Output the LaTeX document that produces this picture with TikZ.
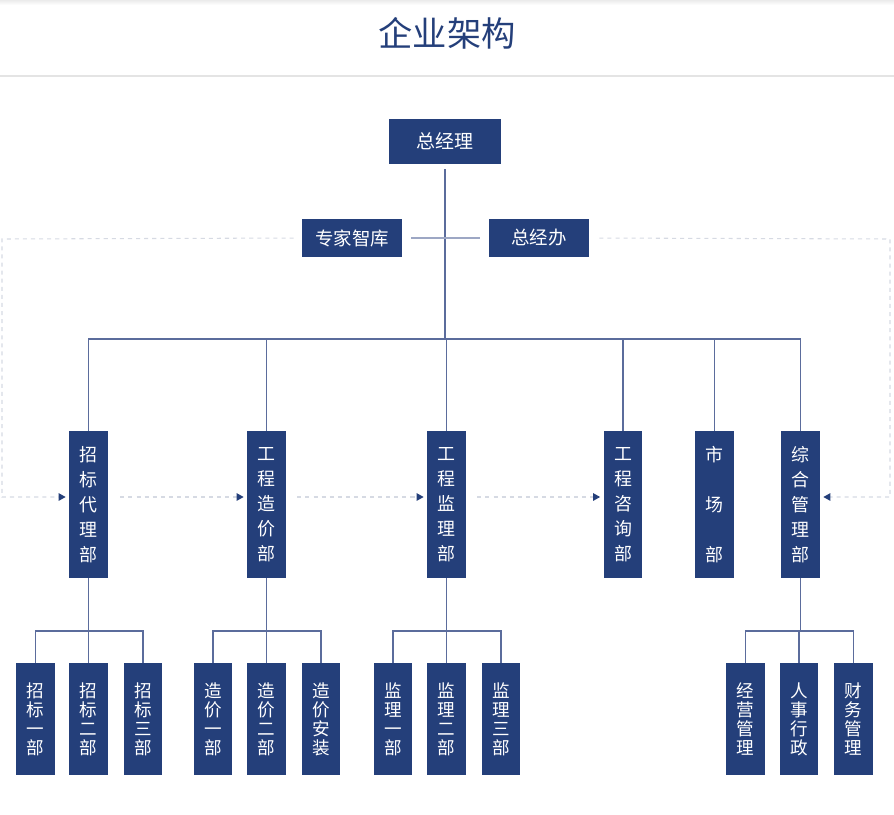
\documentclass[tikz,border=0pt]{standalone}
\usepackage{fontspec}
\newfontfamily\cjk{Noto Sans CJK SC}
\usetikzlibrary{arrows.meta}
\definecolor{navy}{HTML}{243F7A}
\definecolor{linec}{HTML}{5B6C9C}
\definecolor{dashc}{HTML}{D6DAE3}
\definecolor{rulec}{HTML}{E4E4E4}

\begin{document}
\begin{tikzpicture}[x=0.02cm,y=-0.02cm,
  box/.style={fill=navy,text=white,inner sep=0pt,font=\cjk\fontsize{10.5}{12}\selectfont},
  wide/.style={box,minimum width=2cm,minimum height=0.76cm},
  dept/.style={box,align=center,minimum width=0.78cm,minimum height=2.94cm,font=\cjk\fontsize{10.2}{14.2}\selectfont},
  sub/.style={box,align=center,minimum width=0.78cm,minimum height=2.24cm,font=\cjk\fontsize{10}{10.8}\selectfont},
  link/.style={draw=linec,line width=0.6pt},
  guide/.style={draw=dashc,line width=0.6pt,dash pattern=on 2.3pt off 2.3pt},
  tip/.style={-{Triangle[length=0.14cm,width=0.15cm,color=navy]},shorten >=0.06cm}]
\useasboundingbox (0,0) rectangle (894,815);
\shade[top color=black!8,bottom color=white] (0,0) rectangle (894,5);
\node[font=\cjk\fontsize{19.5}{22}\selectfont,text=navy] (title) at (447,33) {企业架构};
\draw[rulec,line width=0.6pt] (0,76) -- (894,76);

\node[wide,minimum width=2.26cm,minimum height=0.9cm,font=\cjk\fontsize{10.8}{12}\selectfont] (gm) at (445,141.5) {总经理};
\node[wide] (think) at (352,238) {专家智库};
\node[wide] (office) at (539,238) {总经办};

\node[dept] (bid) at (88.5,504.5) {招\\标\\代\\理\\部};
\node[dept] (cost) at (266.5,504.5) {工\\程\\造\\价\\部};
\node[dept] (sup) at (446.5,504.5) {工\\程\\监\\理\\部};
\node[dept] (cons) at (623,504.5) {工\\程\\咨\\询\\部};
\node[dept] (mkt) at (714.5,504.5) {市\\[14.2pt]场\\[14.2pt]部};
\node[dept] (adm) at (800.5,504.5) {综\\合\\管\\理\\部};

\node[sub] (bid1) at (35.5,719) {招\\标\\一\\部};
\node[sub] (bid2) at (88.5,719) {招\\标\\二\\部};
\node[sub] (bid3) at (143,719) {招\\标\\三\\部};
\node[sub] (cost1) at (213,719) {造\\价\\一\\部};
\node[sub] (cost2) at (266.5,719) {造\\价\\二\\部};
\node[sub] (cost3) at (321,719) {造\\价\\安\\装};
\node[sub] (sup1) at (393,719) {监\\理\\一\\部};
\node[sub] (sup2) at (446.5,719) {监\\理\\二\\部};
\node[sub] (sup3) at (501,719) {监\\理\\三\\部};
\node[sub] (adm1) at (745.5,719) {经\\营\\管\\理};
\node[sub] (adm2) at (799,719) {人\\事\\行\\政};
\node[sub] (adm3) at (853.5,719) {财\\务\\管\\理};

\coordinate (top) at (445,339);
\coordinate (lowbus) at (0,631);
\draw[link] ([yshift=-0.1cm]gm.south) -- (top);
\foreach \d in {bid,cost,sup,cons,mkt,adm}
  \draw[link] (\d.north) |- (top);
\draw[link,draw=linec!60] ([xshift=0.18cm]think.east) -- ([xshift=-0.18cm]office.west);
\foreach \p in {bid,cost,sup,adm}{
  \draw[link] (\p.south) -- (\p.south |- lowbus);
  \foreach \i in {1,2,3}
    \draw[link] (\p\i.north) |- (\p.south |- lowbus);
}

\coordinate (ltop) at (2,239);
\coordinate (lbot) at (2,497);
\coordinate (rtop) at (890,239);
\coordinate (rbot) at (890,497);
\draw[guide,tip,shorten <=0.16cm] (think.west) -- (ltop) -- (lbot) -- (bid.west |- lbot);
\draw[guide,tip,shorten <=0.24cm] (bid.east |- lbot) -- (cost.west |- lbot);
\draw[guide,tip,shorten <=0.22cm] (cost.east |- lbot) -- (sup.west |- lbot);
\draw[guide,tip,shorten <=0.22cm] (sup.east |- lbot) -- (cons.west |- lbot);
\draw[guide,tip,shorten <=0.2cm] (office.east) -- (rtop) -- (rbot) -- (adm.east |- lbot);
\end{tikzpicture}
\end{document}
